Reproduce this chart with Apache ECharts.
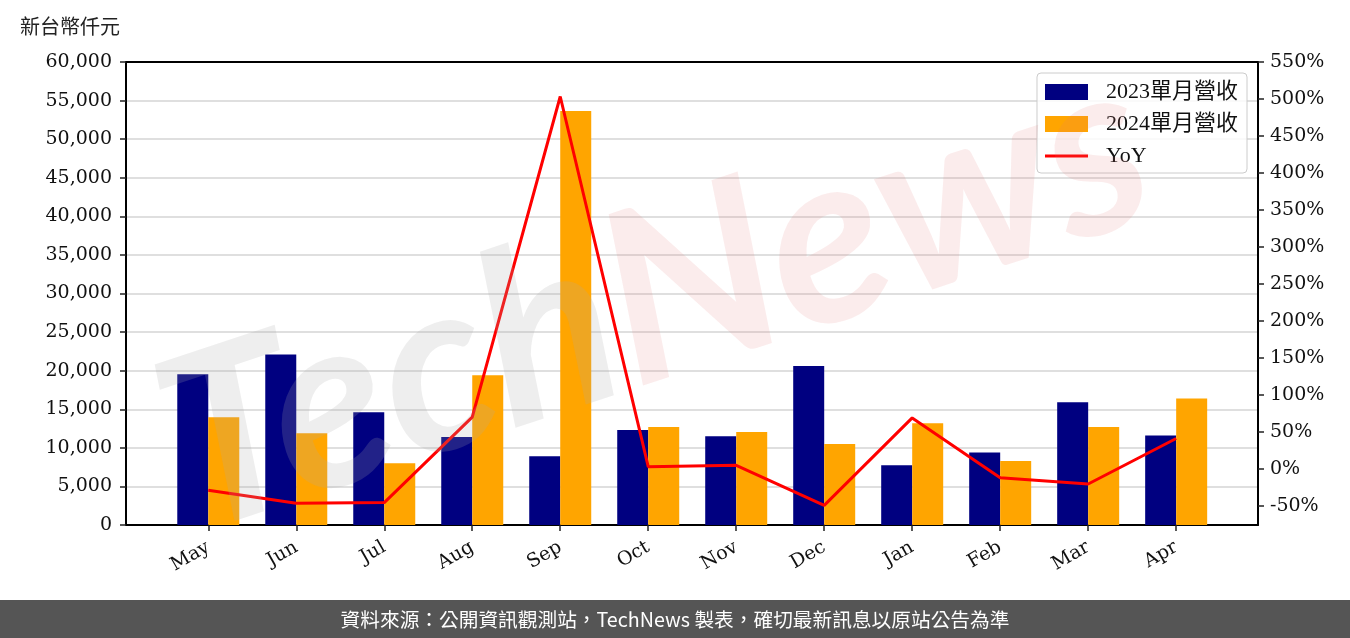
<!DOCTYPE html>
<html>
<head>
<meta charset="utf-8">
<script src="https://cdn.jsdelivr.net/npm/echarts@6/dist/echarts.min.js"></script>
<style>
html,body{margin:0;padding:0;background:#fff;}
#chart{width:1350px;height:638px;}
</style>
</head>
<body>
<div id="chart"></div>
<script>
var months = ['May','Jun','Jul','Aug','Sep','Oct','Nov','Dec','Jan','Feb','Mar','Apr'];
var rev2023 = [19550, 22100, 14600, 11400, 8900, 12300, 11500, 20600, 7750, 9400, 15900, 11600];
var rev2024 = [13950, 11900, 8000, 19400, 53650, 12700, 12050, 10500, 13200, 8300, 12700, 16400];
var yoy = [-28.6, -46.2, -45.2, 70.2, 503.4, 3.3, 5.2, -49.0, 69.2, -11.7, -20.1, 41.4];
var leftTicks = [0,5000,10000,15000,20000,25000,30000,35000,40000,45000,50000,55000,60000];
var rightTicks = [-50,0,50,100,150,200,250,300,350,400,450,500,550];
var seriesNames = ['2023單月營收','2024單月營收','YoY'];
var unitLabel = '新台幣仟元';
var footerText = '資料來源：公開資訊觀測站，TechNews 製表，確切最新訊息以原站公告為準';

var idx = months.map(function(_, i){ return i; });
function pairs(arr){ return arr.map(function(v, i){ return [i, v]; }); }

var serif = 'DejaVu Serif';
var lineIcon = 'path://M0,0 L0.01,0 L0.01,0.01 Z M0,6.5 L43,6.5 L43,9.5 L0,9.5 Z M43,16 L42.99,16 L42.99,15.99 Z';
var chart = echarts.init(document.getElementById('chart'), null, {renderer:'canvas'});
var option = {
  animation: false,
  backgroundColor: '#ffffff',
  grid: {left: 126, right: 92, top: 62, bottom: 113, show: false, containLabel: false},
  legend: {
    orient: 'vertical', right: 103, top: 73,
    padding: [8, 9, 6, 8],
    itemWidth: 43, itemHeight: 16, itemGap: 10,
    backgroundColor: 'rgba(255,255,255,0.85)', borderColor: '#cccccc', borderWidth: 1, borderRadius: 4,
    textStyle: {fontFamily: 'Liberation Serif, "Noto Sans CJK TC"', fontSize: 22, color: '#111', lineHeight: 18, padding: [0,0,0,13]},
    data: [
      {name: seriesNames[0], icon: 'rect'},
      {name: seriesNames[1], icon: 'rect'},
      {name: seriesNames[2], icon: lineIcon, itemStyle: {color: '#ff0000'}}
    ]
  },
  xAxis: [
    {
      type: 'value', min: -0.935, max: 11.93,
      axisLine: {show: true, onZero: false, lineStyle: {color: '#000', width: 2}},
      axisTick: {show: true, length: 6, lineStyle: {color: '#222', width: 1.5}, customValues: idx},
      axisLabel: {customValues: idx, rotate: 30, margin: 21, fontFamily: serif, fontSize: 19, color: '#111',
        formatter: function(v){ return months[Math.round(v)]; }},
      splitLine: {show: false}
    },
    {
      type: 'value', min: -0.935, max: 11.93, position: 'top',
      axisLine: {show: true, onZero: false, lineStyle: {color: '#000', width: 2}},
      axisTick: {show: false}, axisLabel: {show: false}, splitLine: {show: false}
    }
  ],
  yAxis: [
    {
      type: 'value', min: 0, max: 60000, interval: 5000,
      axisLine: {show: true, onZero: false, lineStyle: {color: '#000', width: 2}},
      axisTick: {show: true, length: 6, lineStyle: {color: '#222', width: 1.5}},
      axisLabel: {fontFamily: serif, fontSize: 19, color: '#111', margin: 14,
        formatter: function(v){ return v.toLocaleString('en-US'); }},
      splitLine: {show: true, showMinLine: false, showMaxLine: false, lineStyle: {color: '#d5d5d5', width: 1.5}}
    },
    {
      type: 'value', min: -75.5, max: 550,
      axisLine: {show: true, onZero: false, lineStyle: {color: '#000', width: 2}},
      axisTick: {show: true, length: 6, lineStyle: {color: '#222', width: 1.5}, customValues: rightTicks},
      axisLabel: {customValues: rightTicks, fontFamily: serif, fontSize: 19, color: '#111', margin: 12,
        formatter: function(v){ return v + '%'; }},
      splitLine: {show: false}
    }
  ],
  series: [
    {name: seriesNames[0], type: 'bar', data: pairs(rev2023), barWidth: 31, barGap: '0%', itemStyle: {color: '#000080'}, z: 2},
    {name: seriesNames[1], type: 'bar', data: pairs(rev2024), barWidth: 31, barGap: '0%', itemStyle: {color: '#ffa500'}, z: 2},
    {name: seriesNames[2], type: 'line', yAxisIndex: 1, data: pairs(yoy), symbol: 'none', showSymbol: false,
      lineStyle: {color: '#ff0000', width: 3}, itemStyle: {color: '#ff0000'}, z: 3}
  ],
  graphic: [
    {type: 'text', left: 20, top: 16, style: {text: unitLabel, font: '20px "Noto Sans CJK TC"', fill: '#222'}},
    {type: 'text', x: 655, y: 300, rotation: 0.32, z: 100, silent: true,
      style: {
        text: '{a|Tech}{b|News}', align: 'center', verticalAlign: 'middle',
        rich: {
          a: {font: 'italic bold 240px Lato', fill: 'rgba(170,170,170,0.2)'},
          b: {font: 'italic bold 240px Lato', fill: 'rgba(225,120,120,0.14)'}
        }
      }},
    {type: 'rect', left: 0, top: 600, z: 50, shape: {width: 1350, height: 38}, style: {fill: '#555555'}},
    {type: 'text', x: 675, y: 620, z: 51, style: {text: footerText, font: '19.7px "Noto Sans CJK TC"', fill: '#ffffff', align: 'center', verticalAlign: 'middle'}}
  ]
};
chart.setOption(option);
</script>
</body>
</html>
